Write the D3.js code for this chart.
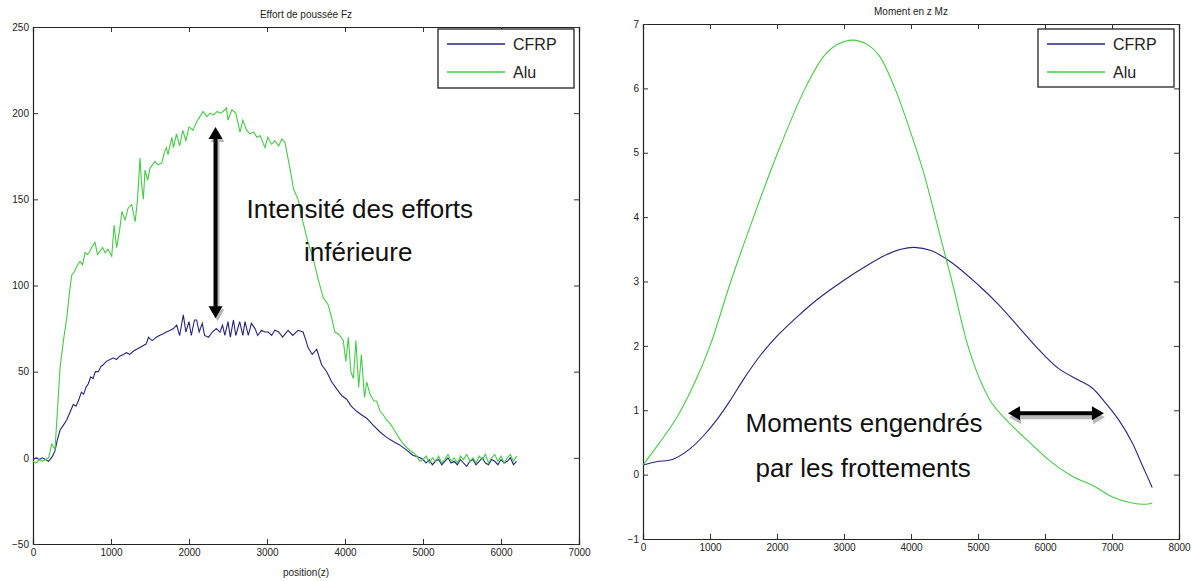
<!DOCTYPE html>
<html><head><meta charset="utf-8">
<script src="https://cdn.jsdelivr.net/npm/d3@7"></script>
<style>
body{margin:0;background:#fff;}
svg{display:block;}
text{font-family:"Liberation Sans",Arial,sans-serif;}
</style></head>
<body><svg id="c" width="1196" height="581"></svg>
<script>
// ---------- data: left chart (Fz) ----------
const fzTitle = "Effort de poussée Fz";
const fzXLabel = "position(z)";
const fzXTicks = [0,1000,2000,3000,4000,5000,6000,7000];
const fzYTicks = [-50,0,50,100,150,200,250];
const fzAluX = [0,40,80,120,160,200,240,282,310,346,390,432,465,496,530,560,603,635,667,700,731,763,795,827,860,892,925,960,1009,1040,1072,1110,1140,1180,1220,1265,1310,1340,1372,1390,1415,1436,1470,1500,1564,1600,1650,1690,1710,1730,1780,1800,1840,1880,1920,1960,2000,2050,2098,2140,2180,2230,2270,2320,2360,2400,2436,2480,2500,2550,2600,2654,2690,2740,2782,2830,2870,2910,2974,3010,3060,3100,3150,3190,3231,3260,3295,3340,3398,3460,3526,3590,3654,3720,3782,3830,3870,3910,3950,3978,4010,4043,4075,4107,4140,4175,4210,4250,4278,4320,4370,4406,4450,4490,4530,4577,4620,4660,4700,4750,4790,4840,4880,4919,4960,5000,5040,5080,5120,5160,5200,5240,5280,5320,5360,5400,5440,5480,5520,5560,5600,5640,5680,5720,5760,5800,5840,5880,5920,5960,6000,6040,6080,6120,6160,6200];
const fzAluY = [-2,-3,-1,-2,-1,0,8,5,25,52,68,81,95,106,108,111,114,112,119,118,120,123,125,118,120,122,119,121,117,135,122,132,143,138,145,147,137,150,174,160,150,167,161,168,172,170,171,178,180,176,186,180,188,181,190,184,192,190,195,198,201,198,200,199,201,200,201,203,196,202,200,189,196,190,188,189,186,187,180,186,182,184,181,185,183,176,168,156,150,137,125,116,104,93,89,81,73,72,70,68,56,70,50,46,68,41,60,35,44,37,33,33,27,25,22,20,17,14,11,8,6,4,3,1,-2,-1,1,-3,0,-2,1,-3,-1,2,-2,0,-3,1,-1,2,-2,0,-3,1,-1,2,-3,0,2,-2,1,-3,0,2,-2,1,-3];
const fzCfrpX = [0,40,80,120,160,200,218,250,282,310,346,390,432,470,517,550,581,620,650,680,709,740,770,800,837,870,900,940,987,1030,1070,1110,1158,1200,1240,1290,1329,1370,1410,1450,1480,1500,1530,1580,1620,1671,1710,1760,1800,1842,1880,1927,1960,2000,2030,2070,2098,2130,2170,2200,2250,2300,2350,2397,2430,2460,2500,2530,2570,2600,2650,2690,2718,2760,2800,2846,2880,2930,2970,3013,3060,3100,3150,3200,3270,3330,3398,3462,3500,3526,3580,3637,3700,3765,3830,3893,3960,4021,4080,4150,4210,4278,4360,4449,4530,4619,4700,4791,4870,4962,5000,5040,5080,5120,5160,5200,5240,5280,5320,5360,5400,5440,5480,5520,5560,5600,5640,5680,5720,5760,5800,5840,5880,5920,5960,6000,6040,6080,6120,6160,6200];
const fzCfrpY = [-1,0,-1,0,-1,-2,-1,1,4,10,16,19,22,26,31,30,33,38,37,41,43,47,46,50,50,53,54,56,57,58,57,59,60,61,60,62,63,64,65,66,70,69,68,70,71,72,73,74,75,77,71,83,73,79,71,80,80,73,78,71,70,73,75,73,77,71,79,70,80,71,79,71,79,71,78,75,71,74,73,73,71,74,73,70,74,71,74,73,68,64,60,63,54,50,44,40,36,34,30,27,25,23,19,15,12,9.5,7.5,4.5,1.5,0,-1,-3,-1,-4,-2,-1,-4,-2,0,-3,-2,-4,-1,-3,-5,-2,-1,-4,-2,0,-3,-4,-1,-2,-4,-1,-3,-2,0,-4,-2];

// ---------- data: right chart (Mz) ----------
const mzTitle = "Moment en z Mz";
const mzXTicks = [0,1000,2000,3000,4000,5000,6000,7000,8000];
const mzYTicks = [-1,0,1,2,3,4,5,6,7];
const mzAluX = [0,250,500,750,1000,1310,1650,2010,2420,2700,2900,3130,3350,3530,3760,4000,4200,4400,4612,4836,5000,5200,5450,5750,6054,6400,6734,7015,7300,7500,7600];
const mzAluY = [0.15,0.5,0.88,1.38,2.0,3.0,4.0,5.0,6.0,6.5,6.68,6.75,6.68,6.5,6.0,5.3,4.65,3.85,3.0,2.05,1.55,1.12,0.82,0.52,0.23,-0.02,-0.18,-0.35,-0.44,-0.46,-0.44];
const mzCfrpX = [0,200,450,700,900,1100,1300,1500,1750,2000,2300,2600,3000,3300,3600,3850,4050,4300,4600,5000,5300,5600,5900,6200,6500,6700,6900,7100,7300,7450,7600];
const mzCfrpY = [0.15,0.2,0.24,0.4,0.6,0.85,1.15,1.48,1.85,2.15,2.45,2.72,3.02,3.22,3.4,3.5,3.53,3.48,3.3,2.95,2.65,2.3,1.95,1.65,1.47,1.35,1.12,0.85,0.5,0.15,-0.2];

const seriesNames = ["CFRP","Alu"];
const seriesColors = ["#25257f","#44cc44"];

// ---------- drawing ----------
const svg = d3.select("#c");

function panel(opt){
  const x = d3.scaleLinear().domain(opt.xDomain).range(opt.xRange);
  const y = d3.scaleLinear().domain(opt.yDomain).range(opt.yRange);
  const g = svg.append("g");
  const fs = "10px";
  const ax = g.append("g").attr("transform",`translate(0,${opt.yRange[0]})`)
    .call(d3.axisBottom(x).tickValues(opt.xTicks).tickSize(-5).tickPadding(5).tickFormat(d3.format("d")));
  const axT = g.append("g").attr("transform",`translate(0,${opt.yRange[1]})`)
    .call(d3.axisTop(x).tickValues(opt.xTicks).tickSize(-5).tickFormat(""));
  const ay = g.append("g").attr("transform",`translate(${opt.xRange[0]},0)`)
    .call(d3.axisLeft(y).tickValues(opt.yTicks).tickSize(-5).tickPadding(4).tickFormat(d3.format("d")));
  const ayR = g.append("g").attr("transform",`translate(${opt.xRange[1]},0)`)
    .call(d3.axisRight(y).tickValues(opt.yTicks).tickSize(-5).tickFormat(""));
  [ax,axT,ay,ayR].forEach(a=>{
    a.selectAll("path").attr("stroke","#222").attr("stroke-width",1.2);
    a.selectAll("line").attr("stroke","#333");
    a.selectAll("text").attr("font-size",fs).attr("fill","#222").attr("font-family","'Liberation Sans', Arial, sans-serif");
  });
  g.append("text").attr("x",(opt.xRange[0]+opt.xRange[1])/2).attr("y",opt.yRange[1]-9)
    .attr("text-anchor","middle").attr("font-size","10px").attr("fill","#222").text(opt.title);
  if(opt.xLabel){
    g.append("text").attr("x",(opt.xRange[0]+opt.xRange[1])/2).attr("y",opt.yRange[0]+32)
      .attr("text-anchor","middle").attr("font-size","10px").attr("fill","#222").text(opt.xLabel);
  }
  const line = d3.line().x(d=>x(d[0])).y(d=>y(d[1])).curve(opt.curve);
  opt.series.forEach((s,i)=>{
    const pts = s.x.map((v,k)=>[v,s.y[k]]);
    g.append("path").datum(pts).attr("d",line).attr("fill","none")
      .attr("stroke",seriesColors[i]).attr("stroke-width",1.1);
  });
  const L = opt.legend;
  g.append("rect").attr("x",L.x).attr("y",L.y).attr("width",L.w).attr("height",L.h)
    .attr("fill","#fff").attr("stroke","#222").attr("stroke-width",1.3);
  seriesNames.forEach((n,i)=>{
    const yy = L.y + 15 + i*28;
    g.append("line").attr("x1",L.x+9).attr("x2",L.x+67).attr("y1",yy).attr("y2",yy)
      .attr("stroke",seriesColors[i]).attr("stroke-width",1.3);
    g.append("text").attr("x",L.x+75).attr("y",yy+6).attr("font-size","16px").attr("fill","#222").text(n);
  });
  return {x,y,g};
}

function arrow(g, x1,y1,x2,y2, color, w){
  const dx=x2-x1, dy=y2-y1, len=Math.hypot(dx,dy), ux=dx/len, uy=dy/len, px=-uy, py=ux;
  const hl=12, hw=7;
  g.append("line").attr("x1",x1+ux*hl*0.8).attr("y1",y1+uy*hl*0.8).attr("x2",x2-ux*hl*0.8).attr("y2",y2-uy*hl*0.8)
    .attr("stroke",color).attr("stroke-width",w);
  [[x1,y1,1],[x2,y2,-1]].forEach(([tx,ty,s])=>{
    const bx=tx+s*ux*hl, by=ty+s*uy*hl;
    g.append("path").attr("d",`M${tx},${ty}L${bx+px*hw},${by+py*hw}L${bx-px*hw},${by-py*hw}Z`).attr("fill",color);
  });
}

const L1 = panel({
  xDomain:[0,7000], xRange:[33,579], yDomain:[-50,250], yRange:[544,27],
  xTicks:fzXTicks, yTicks:fzYTicks, title:fzTitle, xLabel:fzXLabel,
  curve:d3.curveLinear,
  series:[{x:fzCfrpX,y:fzCfrpY},{x:fzAluX,y:fzAluY}],
  legend:{x:438,y:29,w:136,h:59}
});
const R1 = panel({
  xDomain:[0,8000], xRange:[643,1179], yDomain:[-1,7], yRange:[539,24],
  xTicks:mzXTicks, yTicks:mzYTicks, title:mzTitle, xLabel:null,
  curve:d3.curveCatmullRom.alpha(0.5),
  series:[{x:mzCfrpX,y:mzCfrpY},{x:mzAluX,y:mzAluY}],
  legend:{x:1038,y:29,w:136,h:58}
});

const annFz = {arrowX:2340, arrowY1:192, arrowY2:81, t1:"Intensité des efforts", t1x:4190, t1y:139, t2:"inférieure", t2x:4170, t2y:114};
const annMz = {arrowX1:5448, arrowX2:6880, arrowY:0.955, t1:"Moments engendrés", t1x:3300, t1y:0.66, t2:"par les frottements", t2x:3285, t2y:-0.04};
const annFont = "26px";

{
  const {x,y,g}=L1;
  arrow(g, x(annFz.arrowX)+2, y(annFz.arrowY1)+3, x(annFz.arrowX)+2, y(annFz.arrowY2)+3, "#b8b8b8", 4);
  arrow(g, x(annFz.arrowX), y(annFz.arrowY1), x(annFz.arrowX), y(annFz.arrowY2), "#000", 4);
  g.append("text").attr("x",x(annFz.t1x)).attr("y",y(annFz.t1y)).attr("text-anchor","middle").attr("font-size",annFont).attr("fill","#111").text(annFz.t1);
  g.append("text").attr("x",x(annFz.t2x)).attr("y",y(annFz.t2y)).attr("text-anchor","middle").attr("font-size",annFont).attr("fill","#111").text(annFz.t2);
}
{
  const {x,y,g}=R1;
  arrow(g, x(annMz.arrowX1)+1, y(annMz.arrowY)+4, x(annMz.arrowX2)+1, y(annMz.arrowY)+4, "#b8b8b8", 4);
  arrow(g, x(annMz.arrowX1), y(annMz.arrowY), x(annMz.arrowX2), y(annMz.arrowY), "#000", 4);
  g.append("text").attr("x",x(annMz.t1x)).attr("y",y(annMz.t1y)).attr("text-anchor","middle").attr("font-size",annFont).attr("fill","#111").text(annMz.t1);
  g.append("text").attr("x",x(annMz.t2x)).attr("y",y(annMz.t2y)).attr("text-anchor","middle").attr("font-size",annFont).attr("fill","#111").text(annMz.t2);
}
</script></body></html>
